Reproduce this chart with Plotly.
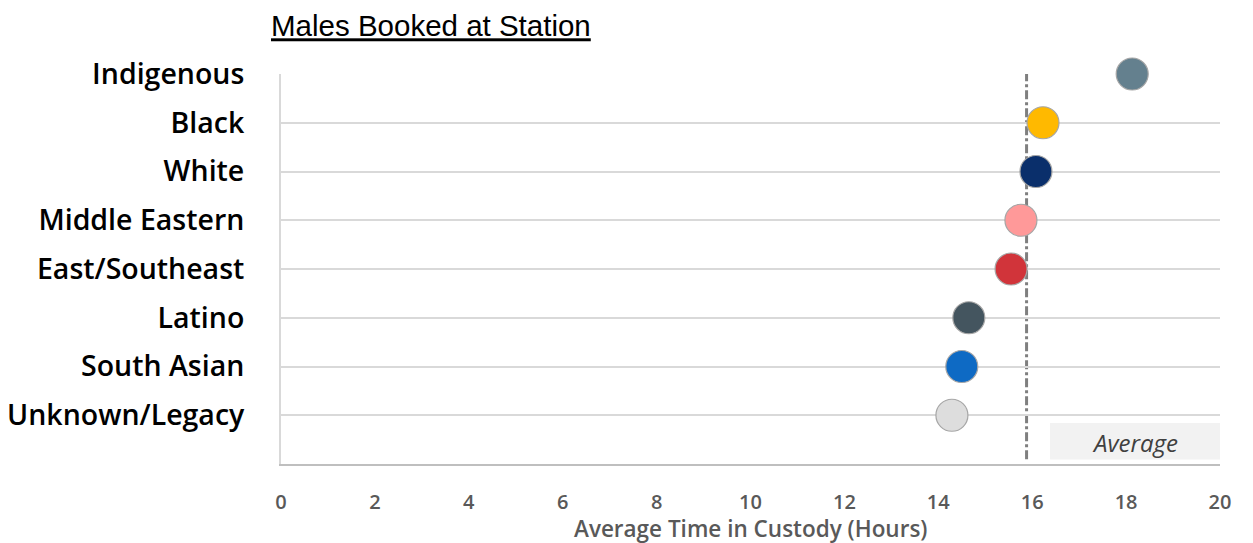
import plotly.graph_objects as go

# Average time in custody by group (hours)
groups = ["Indigenous", "Black", "White", "Middle Eastern", "East/Southeast",
          "Latino", "South Asian", "Unknown/Legacy"]
hours = [18.13, 16.23, 16.08, 15.76, 15.55, 14.65, 14.50, 14.29]
colors = ["#64808E", "#FFB900", "#0A2F6B", "#FF9999", "#D1343A",
          "#44555F", "#0E6AC4", "#DDDDDD"]
average_hours = 15.88
x_ticks = list(range(0, 21, 2))

# rows are stacked top to bottom: first group at the top
rows = list(range(len(groups), 0, -1))

fig = go.Figure()

fig.add_trace(go.Scatter(
    x=hours, y=rows, mode="markers",
    marker=dict(size=32, color=colors, line=dict(color="#A6A6A6", width=1.2)),
    cliponaxis=False, showlegend=False, hoverinfo="x+text", text=groups,
))

# overall average reference line
fig.add_shape(type="line", xref="x", yref="y",
              x0=average_hours, x1=average_hours, y0=0.1, y1=8.08,
              line=dict(color="#7F7F7F", width=3, dash="dashdot"), layer="below")

# label box for the average line
fig.add_shape(type="rect", xref="x", yref="y",
              x0=16.38, x1=20.02, y0=0.09, y1=0.84,
              fillcolor="#F2F2F2", line=dict(width=0), layer="below")
fig.add_annotation(x=18.19, y=0.45, xref="x", yref="y", text="<i>Average</i>",
                   showarrow=False, font=dict(family="Open Sans", size=24, color="#404040"))

# x-axis title, placed in pixels below the tick labels
fig.add_annotation(x=0.5, y=0, xref="x domain", yref="y domain",
                   yanchor="middle", yshift=-64,
                   text="Average Time in Custody (Hours)", showarrow=False,
                   font=dict(family="Open Sans", size=22.5, color="#595959", weight=600))

fig.update_layout(
    width=1253, height=543,
    margin=dict(l=281, r=33, t=74, b=79),
    paper_bgcolor="white", plot_bgcolor="white",
    title=dict(text="<u>Males Booked at Station</u>", x=271 / 1253, xanchor="left",
               y=1 - 26 / 543, yanchor="middle",
               font=dict(family="Liberation Sans, Arial", size=29.5, color="#000000")),
    xaxis=dict(range=[0, 20], tickvals=x_ticks, ticktext=[str(v) for v in x_ticks],
               showgrid=False, zeroline=False, showline=True, automargin=False,
               linecolor="#BFBFBF", linewidth=2, ticks="", ticklabelstandoff=19,
               tickfont=dict(family="Open Sans", size=20, color="#595959", weight=600)),
    yaxis=dict(range=[0, 8], tickvals=rows, ticktext=groups, automargin=False,
               showgrid=True, gridcolor="#D9D9D9", gridwidth=2,
               zeroline=False, showline=True, linecolor="#D9D9D9", linewidth=2,
               ticks="", ticklabelstandoff=29,
               tickfont=dict(family="Open Sans", size=28.5, color="#000000", weight=600)),
)

fig.write_html("out.html")
